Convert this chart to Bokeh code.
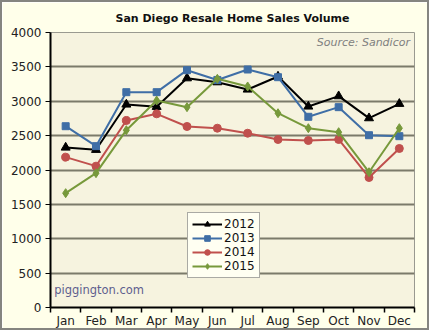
from bokeh.plotting import figure
from bokeh.models import Range1d, FixedTicker, Legend, LegendItem, Label, ColumnDataSource
from bokeh.embed import file_html
from bokeh.resources import INLINE

months = ["Jan", "Feb", "Mar", "Apr", "May", "Jun", "Jul", "Aug", "Sep", "Oct", "Nov", "Dec"]
sales_2012 = [2327, 2294, 2953, 2919, 3335, 3277, 3171, 3360, 2924, 3074, 2754, 2963]
sales_2013 = [2637, 2347, 3132, 3132, 3452, 3310, 3462, 3350, 2774, 2914, 2506, 2492]
sales_2014 = [2187, 2056, 2720, 2817, 2633, 2608, 2535, 2444, 2429, 2444, 1891, 2313]
sales_2015 = [1663, 1954, 2579, 3010, 2914, 3326, 3215, 2826, 2608, 2550, 1968, 2608]
y_ticks = [0, 500, 1000, 1500, 2000, 2500, 3000, 3500, 4000]

xs = [i + 0.5 for i in range(len(months))]

p = figure(width=429, height=330, output_backend="svg", toolbar_location=None,
           x_range=Range1d(0, 12), y_range=Range1d(0, 4000),
           title="San Diego Resale Home Sales Volume",
           min_border_left=48, min_border_right=17, min_border_top=30, min_border_bottom=25)
p.styles = {"border": "2px solid #858580"}
p.border_fill_color = "#FFFFEA"
p.background_fill_color = "#F6F3DF"
p.outline_line_color = "#9a9a90"
p.outline_line_width = 1

p.title.align = "center"
p.title.text_font = "DejaVu Sans"
p.title.text_font_size = "11px"
p.title.text_font_style = "bold"
p.title.text_color = "#111111"
p.title.standoff = 15

p.xgrid.visible = False
p.ygrid.grid_line_color = "#7b7a6a"
p.ygrid.grid_line_width = 2
p.ygrid.ticker = FixedTicker(ticks=y_ticks)

p.yaxis.ticker = FixedTicker(ticks=y_ticks)
p.yaxis.axis_line_color = "black"
p.yaxis.axis_line_width = 2
p.yaxis.major_tick_out = 5
p.yaxis.major_tick_in = 0
p.yaxis.minor_tick_out = 0
p.yaxis.minor_tick_in = 0
p.yaxis.major_label_text_font = "DejaVu Sans"
p.yaxis.major_label_text_font_size = "12px"
p.yaxis.major_label_text_color = "#222222"
p.yaxis.major_label_standoff = 4

p.xaxis.ticker = FixedTicker(ticks=xs, minor_ticks=list(range(13)))
p.xaxis.major_label_overrides = {x: m for x, m in zip(xs, months)}
p.xaxis.axis_line_color = "black"
p.xaxis.axis_line_width = 2
p.xaxis.major_tick_out = 0
p.xaxis.major_tick_in = 0
p.xaxis.minor_tick_out = 5
p.xaxis.minor_tick_in = 0
p.xaxis.minor_tick_line_color = "black"
p.xaxis.minor_tick_line_width = 1.5
p.xaxis.major_label_text_font = "DejaVu Sans"
p.xaxis.major_label_text_font_size = "12px"
p.xaxis.major_label_text_color = "#222222"
p.xaxis.major_label_standoff = 1

series = [
    ("2012", sales_2012, "#000000", "triangle", 9),
    ("2013", sales_2013, "#3F6EA6", "square", 7),
    ("2014", sales_2014, "#C0504D", "circle", 8),
    ("2015", sales_2015, "#77993B", "diamond", 9),
]
items = []
for name, vals, col, marker, size in series:
    src = ColumnDataSource(dict(x=xs, y=vals))
    r1 = p.line("x", "y", source=src, line_color=col, line_width=2)
    r2 = p.scatter("x", "y", source=src, marker=marker, size=size, fill_color=col, line_color=col)
    items.append(LegendItem(label=name, renderers=[r1, r2]))

legend = Legend(items=items, location=(137, 29), orientation="vertical",
                label_text_font="DejaVu Sans", label_text_font_size="12px",
                label_text_color="#111111", glyph_width=30, glyph_height=14,
                label_height=14, spacing=0, padding=4, margin=0,
                label_standoff=2,
                border_line_color="#555555", border_line_width=1,
                background_fill_color="#FFFFF2", background_fill_alpha=1)
p.add_layout(legend, "center")

p.add_layout(Label(x=11.85, y=3860, text="Source: Sandicor", text_align="right",
                   text_baseline="middle", text_font="DejaVu Sans", text_font_size="11px",
                   text_font_style="italic", text_color="#808080"))
p.add_layout(Label(x=0.12, y=260, text="piggington.com", text_align="left",
                   text_baseline="middle", text_font="DejaVu Sans", text_font_size="11.5px",
                   text_color="#5E5E8E"))

open("out.html", "w").write(file_html(p, INLINE))
